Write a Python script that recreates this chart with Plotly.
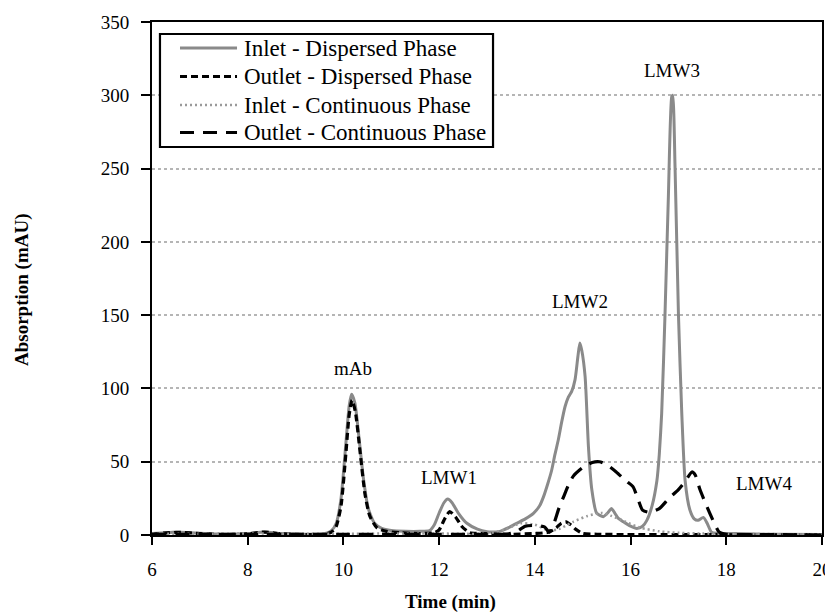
import plotly.graph_objects as go

# ---- data ----
inlet_disp_t = [6.0, 6.3, 6.5, 6.8, 7.2, 7.6, 8.0, 8.35, 8.7, 9.2, 9.6, 9.75, 9.85, 9.95, 10.05, 10.12, 10.17,
                10.24, 10.32, 10.42, 10.52, 10.65, 10.8, 11.0, 11.3, 11.6, 11.8, 11.9, 12.0, 12.1, 12.18, 12.27,
                12.4, 12.58, 12.8, 13.0, 13.12, 13.27, 13.45, 13.62, 13.8, 13.97, 14.1, 14.18, 14.27, 14.35, 14.42,
                14.49, 14.56, 14.63, 14.7, 14.77, 14.84, 14.9, 14.94, 14.98, 15.05, 15.12, 15.19, 15.29, 15.43,
                15.52, 15.6, 15.67, 15.74, 15.85, 16.0, 16.13, 16.25, 16.34, 16.45, 16.55, 16.6, 16.65, 16.72,
                16.79, 16.86, 16.88, 16.93, 17.0, 17.07, 17.14, 17.24, 17.33, 17.41, 17.52, 17.6, 17.69, 17.8,
                18.2, 18.6, 19.0, 20.0]
inlet_disp_v = [1, 1.5, 2, 1.5, 0.8, 0.5, 1, 2, 1, 0.5, 0.8, 3, 8, 25, 62, 88, 96,
                90, 68, 38, 18, 8, 4.5, 3, 2.5, 2.5, 3, 7, 15, 22, 24.5, 22,
                15, 8, 4, 2.2, 2, 2.5, 5, 8, 11, 14.8, 20, 26, 35, 44, 55,
                65, 77, 87.5, 94, 98, 106, 122, 131, 126, 108, 60, 31, 15, 12.5,
                15, 18, 15, 11.5, 9, 6, 4.5, 6, 10, 20, 37, 55, 83, 151,
                231, 299, 300, 250, 151, 83, 37, 17, 11, 10, 12, 8, 2, 1.2,
                1, 0.6, 0.5, 0.4]

outlet_disp_t = [6.0, 6.3, 6.6, 7.0, 7.5, 8.0, 8.35, 8.7, 9.2, 9.6, 9.75, 9.85, 9.95, 10.05, 10.12, 10.18,
                 10.25, 10.35, 10.45, 10.55, 10.7, 10.9, 11.2, 11.6, 11.9, 12.0, 12.1, 12.22, 12.35, 12.47,
                 12.64, 12.9, 13.5, 14.0, 14.3, 14.45, 14.55, 14.65, 14.75, 14.85, 15.0, 15.3, 16.0, 17.0,
                 18.0, 20.0]
outlet_disp_v = [0.5, 1.5, 1.8, 1, 0.3, 0.8, 2, 0.8, 0.3, 0.5, 2, 6, 20, 55, 82, 92,
                 84, 56, 28, 13, 5, 2.5, 1.5, 1, 1.5, 3.5, 10, 16, 12, 6,
                 1.5, 1, 0.5, 1, 2, 5, 8, 9, 7, 4, 1, 0.5, 0.3, 0.3,
                 0.2, 0]

inlet_cont_t = [6.0, 7.0, 8.0, 9.0, 10.0, 11.0, 12.0, 13.0, 13.4, 13.7, 14.0, 14.3, 14.5, 14.8, 15.1, 15.4,
                15.6, 15.9, 16.2, 16.6, 17.0, 17.5, 18.0, 19.0, 20.0]
inlet_cont_v = [0.8, 0.8, 1, 0.8, 0.8, 1, 1, 1, 4, 8, 7, 3, 4, 9, 13, 15,
                13, 9, 5, 2.5, 1.5, 1, 0.8, 0.6, 0.5]

outlet_cont_t = [6.0, 7.0, 8.0, 9.0, 10.0, 11.0, 12.0, 13.0, 13.4, 13.6, 13.8, 14.0, 14.2, 14.3, 14.4, 14.5,
                 14.6, 14.7, 14.8, 15.0, 15.2, 15.35, 15.5, 15.7, 15.9, 16.05, 16.15, 16.25, 16.4, 16.6,
                 16.8, 17.0, 17.15, 17.28, 17.35, 17.45, 17.6, 17.75, 17.85, 18.0, 19.0, 20.0]
outlet_cont_v = [0.5, 0.5, 0.5, 0.5, 0.5, 0.5, 0.5, 0.5, 0.5, 2, 6, 6.5, 5.5, 2, 8, 18,
                 26, 34, 40, 46, 49.5, 50, 48, 43, 37, 33, 25, 17, 15.5, 18,
                 25, 31, 37, 43, 41, 31, 19, 8, 2, 0.5, 0.3, 0]

series_names = ["Inlet - Dispersed Phase", "Outlet - Dispersed Phase",
                "Inlet - Continuous Phase", "Outlet - Continuous Phase"]

peak_labels = ["mAb", "LMW1", "LMW2", "LMW3", "LMW4"]
peak_label_t = [10.2, 12.2, 14.95, 16.86, 18.79]
peak_label_v = [113.9, 38.9, 159, 317, 34.8]

FONT = "Liberation Serif, Times New Roman, serif"

styles = [
    dict(color="#8a8a8a", width=3),
    dict(color="black", width=3.2, dash="7px,4px"),
    dict(color="#9a9a9a", width=2.5, dash="2px,3px"),
    dict(color="black", width=3.2, dash="14px,9px"),
]
xs = [inlet_disp_t, outlet_disp_t, inlet_cont_t, outlet_cont_t]
ys = [inlet_disp_v, outlet_disp_v, inlet_cont_v, outlet_cont_v]

fig = go.Figure()
for name, x, y, st in zip(series_names, xs, ys, styles):
    fig.add_trace(go.Scatter(x=x, y=y, mode="lines", name=name, showlegend=False,
                             line=dict(shape="spline", smoothing=0.6, **st)))

for txt, t, v in zip(peak_labels, peak_label_t, peak_label_v):
    fig.add_annotation(x=t, y=v, text=txt, showarrow=False, xanchor="center", yanchor="middle",
                       font=dict(family=FONT, size=19, color="black"))

fig.add_annotation(xref="paper", yref="paper", x=0.446, y=-0.1306, text="<b>Time (min)</b>", showarrow=False,
                   xanchor="center", yanchor="middle", font=dict(family=FONT, size=19, color="black"))
fig.add_annotation(xref="paper", yref="paper", x=-0.194, y=0.4776, text="<b>Absorption (mAU)</b>", showarrow=False,
                   xanchor="center", yanchor="middle", textangle=-90,
                   font=dict(family=FONT, size=19, color="black"))

# ---- legend box (drawn in paper coordinates) ----
fig.add_shape(type="rect", xref="paper", yref="paper", x0=0.0119, x1=0.509, y0=0.7563, y1=0.9766,
              line=dict(color="black", width=2.2), fillcolor="white", layer="above")
row_y = [0.9493, 0.8938, 0.8382, 0.7846]
for name, st, ry in zip(series_names, styles, row_y):
    fig.add_shape(type="line", xref="paper", yref="paper", x0=0.0418, x1=0.1269, y0=ry, y1=ry,
                  line=st, layer="above")
    fig.add_annotation(xref="paper", yref="paper", x=0.1343, y=ry, text=name, showarrow=False,
                       xanchor="left", yanchor="middle", font=dict(family=FONT, size=23, color="black"))

fig.update_layout(
    width=825, height=605,
    margin=dict(l=144, r=11, t=14, b=78),
    paper_bgcolor="white", plot_bgcolor="white",
    font=dict(family=FONT, size=19, color="black"),
    showlegend=False,
    xaxis=dict(range=[6, 20], dtick=2, tick0=6, showgrid=False, zeroline=False, automargin=False,
               showline=True, linecolor="black", linewidth=2, mirror=True,
               ticks="outside", ticklen=8, tickwidth=2, tickcolor="black", ticklabelstandoff=8,
               tickfont=dict(family=FONT, size=19, color="black")),
    yaxis=dict(range=[0, 350], dtick=50, tick0=0, showgrid=True, gridcolor="#b5b5b5", griddash="dot", gridwidth=1.5,
               zeroline=False, showline=True, linecolor="black", linewidth=2, mirror=True, automargin=False,
               ticks="outside", ticklen=9, tickwidth=2, tickcolor="black", ticklabelstandoff=8,
               tickfont=dict(family=FONT, size=19, color="black")),
)

fig.write_html("out.html")
